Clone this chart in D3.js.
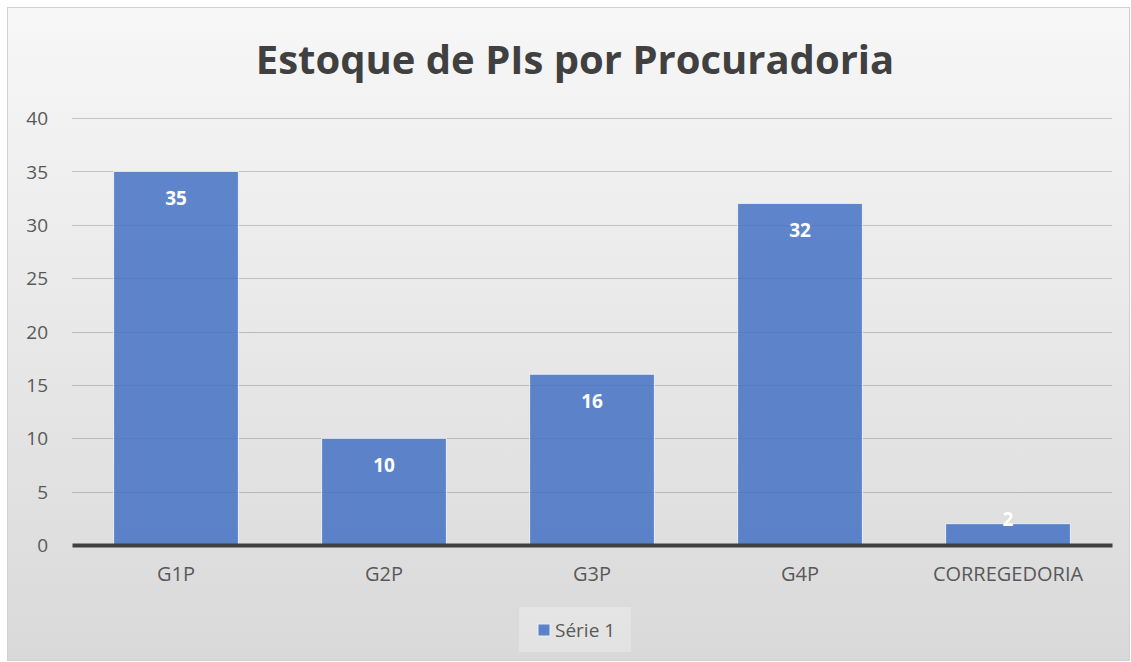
<!DOCTYPE html>
<html>
<head>
<meta charset="utf-8">
<script src="https://cdn.jsdelivr.net/npm/d3@7"></script>
<style>
  body { margin: 0; background: #fff; }
  svg { display: block; font-family: "Open Sans", "Noto Sans", sans-serif; }
</style>
</head>
<body>
<div id="chart"></div>
<script>
// chart data
var categories = ["G1P", "G2P", "G3P", "G4P", "CORREGEDORIA"];
var values = [35, 10, 16, 32, 2];
var yTicks = [0, 5, 10, 15, 20, 25, 30, 35, 40];
var seriesName = "Série 1";
var chartTitle = "Estoque de PIs por Procuradoria";

var width = 1131, height = 662;
var margin = { top: 118, right: 19, bottom: 117, left: 72 };
var fontFamily = '"Open Sans", "Noto Sans", sans-serif';

var svg = d3.select("#chart")
            .append("svg")
            .attr("width", width)
            .attr("height", height);

// background gradient, light at top, darker gray at bottom
var defs = svg.append("defs");
var grad = defs.append("linearGradient")
               .attr("id", "bg")
               .attr("x1", 0).attr("y1", 0)
               .attr("x2", 0).attr("y2", 1);
grad.append("stop").attr("offset", "0%").attr("stop-color", "#f7f7f7");
grad.append("stop").attr("offset", "100%").attr("stop-color", "#d9d9d9");

svg.append("rect")
   .attr("x", 7.5).attr("y", 7.5)
   .attr("width", width - 9).attr("height", height - 9)
   .attr("fill", "url(#bg)")
   .attr("stroke", "#d0d0d0")
   .attr("stroke-width", 1);

var x = d3.scaleBand()
          .domain(categories)
          .range([margin.left, width - margin.right])
          .paddingInner(0.4)
          .paddingOuter(0.2);

var y = d3.scaleLinear()
          .domain([0, 40])
          .range([height - margin.bottom, margin.top]);

// gridlines
svg.append("g")
   .selectAll("line")
   .data(yTicks.filter(function(d) { return d > 0; }))
   .enter()
   .append("line")
   .attr("x1", margin.left)
   .attr("x2", width - margin.right)
   .attr("y1", function(d) { return Math.round(y(d)) + 0.5; })
   .attr("y2", function(d) { return Math.round(y(d)) + 0.5; })
   .attr("stroke", "rgba(0,0,0,0.19)")
   .attr("stroke-width", 1);

// y axis labels
var yAxis = d3.axisLeft(y).tickValues(yTicks).tickSize(0).tickPadding(0);
var yg = svg.append("g")
            .attr("transform", "translate(" + (margin.left - 24) + ",0)")
            .call(yAxis)
            .attr("font-family", fontFamily);
yg.select(".domain").remove();
yg.selectAll("text")
  .attr("fill", "#595959")
  .attr("font-size", "19px")
  .attr("dy", "0.35em");

// bars
svg.append("g")
   .selectAll("rect")
   .data(values)
   .enter()
   .append("rect")
   .attr("x", function(d, i) { return x(categories[i]); })
   .attr("y", function(d) { return y(d); })
   .attr("width", x.bandwidth())
   .attr("height", function(d) { return y(0) - y(d); })
   .attr("fill", "#4472c4")
   .attr("fill-opacity", 0.85)
   .attr("stroke", "#e8eef8")
   .attr("stroke-width", 1);

// data labels (short bars: keep label just above the baseline)
svg.append("g")
   .selectAll("text")
   .data(values)
   .enter()
   .append("text")
   .attr("x", function(d, i) { return x(categories[i]) + x.bandwidth() / 2; })
   .attr("y", function(d) { return Math.min(y(d) + 34, y(0) - 19); })
   .attr("text-anchor", "middle")
   .attr("fill", "#ffffff")
   .attr("font-weight", "bold")
   .attr("font-size", "19px")
   .text(function(d) { return d; });

// x axis with thick baseline
var xAxis = d3.axisBottom(x).tickSize(0).tickPadding(22);
var xg = svg.append("g")
            .attr("transform", "translate(0," + y(0) + ")")
            .call(xAxis)
            .attr("font-family", fontFamily);
xg.select(".domain")
  .attr("stroke", "#404040")
  .attr("stroke-width", 4);
xg.selectAll("text")
  .attr("fill", "#595959")
  .attr("font-size", "20px");

// title
svg.append("text")
   .attr("x", 575)
   .attr("y", 74)
   .attr("text-anchor", "middle")
   .attr("fill", "#404040")
   .attr("font-weight", "bold")
   .attr("font-size", "40px")
   .text(chartTitle);

// legend
var legend = svg.append("g").attr("transform", "translate(519,607)");
legend.append("rect")
      .attr("width", 112).attr("height", 45)
      .attr("fill", "#ffffff").attr("fill-opacity", 0.25);
legend.append("rect")
      .attr("x", 19).attr("y", 17)
      .attr("width", 12).attr("height", 12)
      .attr("fill", "#4472c4").attr("fill-opacity", 0.85)
      .attr("stroke", "#e8eef8");
legend.append("text")
      .attr("x", 36).attr("y", 30)
      .attr("fill", "#595959")
      .attr("font-size", "19px")
      .text(seriesName);
</script>
</body>
</html>
